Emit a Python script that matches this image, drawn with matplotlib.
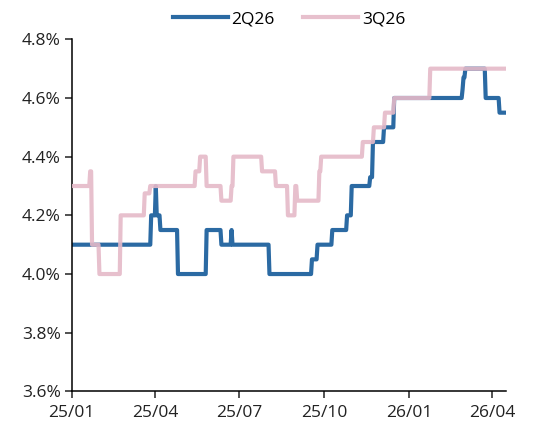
import matplotlib
matplotlib.use('Agg')
import matplotlib.pyplot as plt
import matplotlib.dates as mdates
import matplotlib.ticker as mticker
import pandas as pd

# change points (date, level in %)
q2_dates = ['2025-01-01', '2025-03-28', '2025-04-02', '2025-04-03',
            '2025-04-07', '2025-04-26', '2025-05-27', '2025-06-12', '2025-06-23',
            '2025-06-24', '2025-08-03', '2025-09-18', '2025-09-24', '2025-10-10',
            '2025-10-26', '2025-10-31', '2025-11-20', '2025-11-23', '2025-12-05',
            '2025-12-16', '2026-02-28', '2026-03-01', '2026-03-03', '2026-03-25',
            '2026-04-09', '2026-04-16']
q2_values = [4.10, 4.20, 4.30, 4.20,
             4.15, 4.00, 4.15, 4.10, 4.15,
             4.10, 4.00, 4.05, 4.10, 4.15,
             4.20, 4.30, 4.33, 4.45, 4.50,
             4.60, 4.63, 4.67, 4.70, 4.60,
             4.55, 4.55]

q3_dates = ['2025-01-01', '2025-01-21', '2025-01-23', '2025-01-31', '2025-02-23',
            '2025-03-21', '2025-03-27', '2025-05-15', '2025-05-20', '2025-05-27',
            '2025-06-12', '2025-06-23', '2025-06-25', '2025-07-26', '2025-08-10',
            '2025-08-23', '2025-08-31', '2025-09-02', '2025-09-26', '2025-09-28',
            '2025-11-12', '2025-11-24', '2025-12-06', '2025-12-16', '2026-01-24',
            '2026-04-16']
q3_values = [4.30, 4.35, 4.10, 4.00, 4.20,
             4.275, 4.30, 4.35, 4.40, 4.30,
             4.25, 4.30, 4.40, 4.35, 4.30,
             4.20, 4.30, 4.25, 4.35, 4.40,
             4.45, 4.50, 4.55, 4.60, 4.70,
             4.70]


def daily(dates, values):
    s = pd.Series(values, index=pd.to_datetime(dates))
    idx = pd.date_range(s.index[0], s.index[-1], freq='D')
    return s.reindex(idx).ffill()


q2 = daily(q2_dates, q2_values)
q3 = daily(q3_dates, q3_values)

plt.rcParams['font.family'] = ['Open Sans', 'DejaVu Sans']

fig = plt.figure(figsize=(5.34, 4.34), dpi=100)
ax = fig.add_axes([0.1343, 0.0982, 0.8133, 0.8112])

ax.plot(q2.index, q2.values, color='#2B6AA3', lw=3.0, label='2Q26', zorder=2)
ax.plot(q3.index, q3.values, color='#E5B9C8', lw=3.0, alpha=0.9, label='3Q26', zorder=3)

ax.set_ylim(3.6, 4.8)
ax.yaxis.set_major_locator(mticker.MultipleLocator(0.2))
ax.yaxis.set_major_formatter(mticker.FuncFormatter(lambda v, p: f'{v:.1f}%'))
ax.set_xlim(q3.index[0], q3.index[-1])
ax.xaxis.set_major_locator(mdates.MonthLocator(bymonth=[1, 4, 7, 10]))
ax.xaxis.set_major_formatter(mdates.DateFormatter('%y/%m'))

for side in ['top', 'right']:
    ax.spines[side].set_visible(False)
for side in ['left', 'bottom']:
    ax.spines[side].set_linewidth(1.1)
ax.tick_params(axis='both', labelsize=12.5, length=5, width=1.1, colors='#222222')
ax.tick_params(axis='x', pad=5)
ax.tick_params(axis='y', pad=3)

ax.legend(loc='lower center', bbox_to_anchor=(0.5, 1.005), ncol=2, frameon=False,
          fontsize=12.5, handlelength=3.2, handletextpad=0.2, columnspacing=1.6,
          borderaxespad=0.2)

plt.savefig('out.png', dpi=100)
